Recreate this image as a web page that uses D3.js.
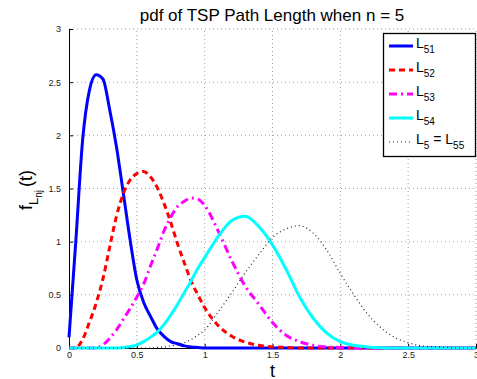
<!DOCTYPE html>
<html>
<head>
<meta charset="utf-8">
<script src="https://cdn.jsdelivr.net/npm/d3@7"></script>
<style>
  body { margin: 0; background: #fff; }
  text { font-family: "Liberation Sans", Arial, sans-serif; }
</style>
</head>
<body>
<div id="viz"></div>
<script>
// t grid shared by every curve (finer steps below t = 1)
const tValues = [0, 0.05, 0.1, 0.15, 0.2, 0.25, 0.3, 0.35, 0.4, 0.45, 0.5,
  0.55, 0.6, 0.65, 0.7, 0.75, 0.8, 0.85, 0.9, 0.95, 1.0,
  1.1, 1.2, 1.3, 1.4, 1.5, 1.6, 1.7, 1.8, 1.9, 2.0,
  2.1, 2.2, 2.3, 2.4, 2.5, 2.6, 2.7, 2.8, 2.9, 3.0];

// values
const L51 = [0.1, 1.0, 1.95, 2.42, 2.57, 2.53, 2.24, 1.89, 1.46, 1.02, 0.64,
  0.43, 0.30, 0.18, 0.11, 0.06, 0.04, 0.02, 0.01, 0.005, 0,
  0, 0, 0, 0, 0, 0, 0, 0, 0, 0,
  0, 0, 0, 0, 0, 0, 0, 0, 0, 0];
const L52 = [0, 0, 0.08, 0.24, 0.42, 0.65, 0.95, 1.24, 1.45, 1.58, 1.64,
  1.66, 1.61, 1.51, 1.36, 1.18, 0.98, 0.80, 0.63, 0.50, 0.38,
  0.21, 0.11, 0.055, 0.025, 0.01, 0.005, 0, 0, 0, 0,
  0, 0, 0, 0, 0, 0, 0, 0, 0, 0];
const L53 = [0, 0, 0, 0, 0, 0.03, 0.09, 0.17, 0.27, 0.37, 0.48,
  0.60, 0.77, 0.93, 1.10, 1.23, 1.33, 1.38, 1.41, 1.40, 1.34,
  1.10, 0.82, 0.58, 0.41, 0.24, 0.12, 0.06, 0.025, 0.01, 0.005,
  0, 0, 0, 0, 0, 0, 0, 0, 0, 0];
const L54 = [0, 0, 0, 0, 0, 0, 0, 0, 0.005, 0.015, 0.03,
  0.06, 0.10, 0.15, 0.22, 0.31, 0.41, 0.52, 0.63, 0.75, 0.85,
  1.05, 1.20, 1.24, 1.14, 0.97, 0.74, 0.48, 0.28, 0.14, 0.06,
  0.025, 0.01, 0.003, 0, 0, 0, 0, 0, 0, 0];
const L55 = [0, 0, 0, 0, 0, 0, 0, 0, 0, 0, 0,
  0, 0, 0.005, 0.01, 0.02, 0.03, 0.05, 0.08, 0.12, 0.17,
  0.34, 0.52, 0.71, 0.88, 1.04, 1.12, 1.15, 1.08, 0.92, 0.70,
  0.50, 0.32, 0.19, 0.10, 0.05, 0.02, 0.01, 0.004, 0, 0];

const xTicks = [0, 0.5, 1, 1.5, 2, 2.5, 3];
const yTicks = [0, 0.5, 1, 1.5, 2, 2.5, 3];
// legend text pieces, alternating normal / subscript
const legendLabels = [["L", "51"], ["L", "52"], ["L", "53"], ["L", "54"], ["L", "5", " = L", "55"]];

const series = [
  { values: L51, color: '#0000ff', width: 3, dash: null },
  { values: L52, color: '#ff0000', width: 3, dash: '6,4' },
  { values: L53, color: '#ff00ff', width: 3, dash: '8,4,2,4' },
  { values: L54, color: '#00ffff', width: 3, dash: null },
  { values: L55, color: '#222222', width: 1.2, dash: '1,3' }
];

const W = 477, H = 379;
const margin = { top: 29, right: 1, bottom: 31, left: 69 };

const svg = d3.select('#viz').append('svg')
  .attr('width', W)
  .attr('height', H);

const x = d3.scaleLinear().domain([0, 3]).range([margin.left, W - margin.right]);
const y = d3.scaleLinear().domain([0, 3]).range([H - margin.bottom, margin.top]);

// dotted grid
svg.append('g').selectAll('line.gx')
  .data(xTicks.slice(1))
  .enter().append('line')
  .attr('x1', d => x(d)).attr('x2', d => x(d))
  .attr('y1', y(0)).attr('y2', y(3))
  .attr('stroke', '#888').attr('stroke-width', 0.8)
  .attr('stroke-dasharray', '1,3');
svg.append('g').selectAll('line.gy')
  .data(yTicks.slice(1))
  .enter().append('line')
  .attr('x1', x(0)).attr('x2', x(3))
  .attr('y1', d => y(d)).attr('y2', d => y(d))
  .attr('stroke', '#888').attr('stroke-width', 0.8)
  .attr('stroke-dasharray', '1,3');

// axes
const xAxis = d3.axisBottom(x).tickValues(xTicks).tickSize(-4).tickPadding(4)
  .tickFormat(d3.format('~g'));
const yAxis = d3.axisLeft(y).tickValues(yTicks).tickSize(-4).tickPadding(8)
  .tickFormat(d3.format('~g'));

svg.append('g')
  .attr('transform', `translate(0,${y(0)})`)
  .call(xAxis)
  .call(g => g.select('.domain').attr('stroke', '#000'))
  .call(g => g.selectAll('text').attr('font-size', 9).attr('fill', '#222')
    .attr('font-family', '"Liberation Sans", Arial, sans-serif'));

svg.append('g')
  .attr('transform', `translate(${x(0)},0)`)
  .call(yAxis)
  .call(g => g.select('.domain').attr('stroke', '#000'))
  .call(g => g.selectAll('text').attr('font-size', 9).attr('fill', '#222')
    .attr('font-family', '"Liberation Sans", Arial, sans-serif'));

// curves
const line = d3.line()
  .x((d, i) => x(tValues[i]))
  .y(d => y(d))
  .curve(d3.curveMonotoneX);

series.forEach(s => {
  svg.append('path')
    .datum(s.values)
    .attr('d', line)
    .attr('fill', 'none')
    .attr('stroke', s.color)
    .attr('stroke-width', s.width)
    .attr('stroke-dasharray', s.dash);
});

// title
svg.append('text')
  .attr('x', 272).attr('y', 21)
  .attr('text-anchor', 'middle')
  .attr('font-size', 17)
  .text('pdf of TSP Path Length when n = 5');

// x label
svg.append('text')
  .attr('x', x(1.5)).attr('y', 377)
  .attr('text-anchor', 'middle')
  .attr('font-size', 18)
  .text('t');

// y label f_{L_{nj}}(t)
const yl = svg.append('text')
  .attr('transform', 'translate(32,190) rotate(-90)')
  .attr('text-anchor', 'middle')
  .attr('font-size', 18);
yl.append('tspan').text('f');
yl.append('tspan').attr('font-size', 13).attr('dy', 6).text('L');
yl.append('tspan').attr('font-size', 10).attr('dy', 4).text('nj');
yl.append('tspan').attr('dy', -10).attr('dx', 3).text('(t)');

// legend
const legend = svg.append('g');
legend.append('rect')
  .attr('x', 383.5).attr('y', 33.5)
  .attr('width', 92).attr('height', 123)
  .attr('fill', '#fff')
  .attr('stroke', '#000').attr('stroke-width', 1.3);

const rowY = [46, 70, 94, 118, 142];
series.forEach((s, i) => {
  legend.append('line')
    .attr('x1', 389).attr('x2', 413)
    .attr('y1', rowY[i]).attr('y2', rowY[i])
    .attr('stroke', s.color)
    .attr('stroke-width', s.width)
    .attr('stroke-dasharray', s.dash);
  const t = legend.append('text')
    .attr('x', 416).attr('y', rowY[i] + 2)
    .attr('font-size', 14);
  legendLabels[i].forEach((piece, k) => {
    const sub = k % 2 === 1;
    t.append('tspan')
      .attr('font-size', sub ? 10 : 14)
      .attr('dy', k === 0 ? 0 : (sub ? 5 : -5))
      .style('white-space', 'pre')
      .text(piece);
  });
});
</script>
</body>
</html>
